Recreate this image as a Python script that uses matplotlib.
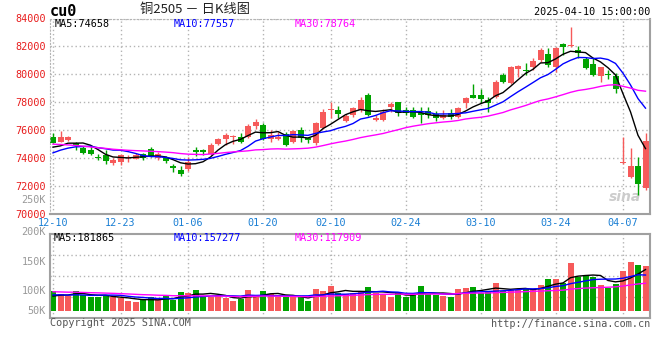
import matplotlib
matplotlib.use("Agg")
import matplotlib.pyplot as plt
import numpy as np
import pandas as pd

# --------------------------------------------------
# DATA  (cu2505 daily, 2024-12-10 .. 2025-04-10)
# --------------------------------------------------
dates = (
    ["12-10", "12-11", "12-12", "12-13", "12-16", "12-17", "12-18", "12-19", "12-20",
     "12-23", "12-24", "12-25", "12-26", "12-27", "12-30", "12-31"]
    + ["01-02", "01-03", "01-06", "01-07", "01-08", "01-09", "01-10", "01-13", "01-14",
       "01-15", "01-16", "01-17", "01-20", "01-21", "01-22", "01-23", "01-24", "01-27"]
    + ["02-05", "02-06", "02-07", "02-10", "02-11", "02-12", "02-13", "02-14", "02-17",
       "02-18", "02-19", "02-20", "02-21", "02-24", "02-25", "02-26", "02-27", "02-28"]
    + ["03-03", "03-04", "03-05", "03-06", "03-07", "03-10", "03-11", "03-12", "03-13",
       "03-14", "03-17", "03-18", "03-19", "03-20", "03-21", "03-24", "03-25", "03-26",
       "03-27", "03-28", "03-31"]
    + ["04-01", "04-02", "04-03", "04-07", "04-08", "04-09", "04-10"]
)
date_ticks = ["12-10", "12-23", "01-06", "01-20", "02-10", "02-24", "03-10", "03-24", "04-07"]

open_ = [75500, 75190, 75270, 75070, 74760, 74570, 74110, 74240, 73660, 73690,
         73990, 73950, 74300, 74680, 74020, 74000, 73410, 73160, 73240, 74560,
         74590, 74310, 75020, 75400, 75540, 75500, 75490, 76310, 76380, 75380,
         75380, 75740, 75160, 76020, 75430, 75110, 76160, 77450, 77450, 76690,
         77060, 77450, 78520, 76760, 76740, 77660, 78020, 77450, 77450, 77210,
         77380, 77160, 76860, 77210, 76970, 77970, 78520, 78520, 78160, 78400,
         79950, 79400, 80360, 80310, 80540, 81020, 81430, 80540, 82140, 82000,
         81740, 81070, 80740, 79880, 80020, 79880, 73640, 72640, 73470, 71860]
high_ = [75790, 75970, 75560, 75190, 74900, 74900, 74290, 74560, 74000, 74310,
         74240, 74360, 74400, 74790, 74450, 74160, 73580, 73450, 74060, 74770,
         74660, 75070, 75470, 75790, 75660, 75790, 76430, 76790, 76500, 76020,
         75900, 75900, 76020, 76210, 75540, 76610, 77500, 78040, 77710, 77140,
         77690, 78400, 78690, 77090, 77500, 78040, 78040, 77690, 77640, 77690,
         77690, 77380, 77450, 77520, 77690, 78400, 79310, 78950, 78360, 79590,
         80070, 80590, 80660, 80790, 81140, 81860, 81860, 81970, 82210, 83400,
         82020, 81260, 81140, 80540, 80310, 80070, 75540, 74710, 74110, 75790]
low_ = [75060, 75140, 75230, 74590, 74330, 74190, 73880, 73610, 73520, 73500,
        73690, 73910, 73880, 74050, 73880, 73640, 73040, 72740, 73090, 74130,
        74200, 74260, 74950, 74950, 75000, 75070, 75430, 76070, 75310, 75190,
        75310, 74900, 75070, 75140, 75110, 74950, 76090, 76910, 76860, 76570,
        76970, 77310, 76990, 76660, 76660, 77330, 77020, 77090, 76860, 76540,
        76860, 76660, 76790, 76810, 76860, 77570, 78330, 77970, 77290, 78330,
        79360, 79310, 79830, 79950, 80310, 80900, 80540, 80190, 81380, 81970,
        81140, 80360, 79880, 79470, 79640, 78690, 73590, 72570, 71380, 71690]
close_ = [75110, 75540, 75530, 74840, 74400, 74310, 73990, 73830, 73890, 74240,
          74110, 74240, 74000, 74150, 74290, 73760, 73260, 72880, 73700, 74410,
          74450, 74950, 75360, 75660, 75610, 75140, 76310, 76610, 75400, 75660,
          75540, 74950, 75970, 75430, 75310, 76540, 77340, 77500, 77160, 77020,
          77570, 78160, 77060, 76910, 77310, 77900, 77210, 77210, 76970, 77090,
          77090, 76860, 77090, 76970, 77610, 78330, 78330, 78240, 77970, 79470,
          79470, 80540, 80590, 80240, 80970, 81740, 80660, 81900, 81930, 82030,
          81500, 80430, 79950, 80540, 79950, 78930, 73690, 73470, 72140, 75200]
# volume, thousand lots
volume = [87, 74, 65, 87, 70, 59, 62, 65, 59, 55,
          44, 40, 47, 59, 50, 65, 47, 84, 80, 92,
          65, 62, 65, 55, 44, 52, 92, 70, 87, 74,
          59, 59, 62, 59, 44, 96, 87, 111, 80, 74,
          77, 87, 106, 77, 70, 62, 77, 62, 74, 109,
          74, 70, 65, 62, 96, 102, 106, 80, 89, 124,
          89, 92, 92, 97, 97, 114, 140, 140, 124, 213,
          148, 155, 150, 114, 102, 118, 176, 215, 202, 200]

# 29 sessions before 12-10, only used to seed the moving averages
pre_close = [76200, 76500, 76000, 75800, 76100, 75600, 75300, 75700, 75400, 75200,
             75000, 74600, 74900, 75100, 74700, 74500, 74800, 75000, 74900, 74920,
             73600, 74100, 73900, 74200, 74050, 75080, 74570, 74840, 74340]
pre_volume = [100, 95, 88, 105, 92, 85, 98, 90, 94, 86,
              89, 93, 87, 96, 84, 91, 88, 92, 85, 82,
              70, 80, 72, 78, 75, 55, 62, 58, 63]

price_labels = ["MA5:74658", "MA10:77557", "MA30:78764"]
vol_labels = ["MA5:181865", "MA10:157277", "MA30:117909"]
vol_axis_labels = ["250K", "200K", "150K", "100K", "50K"]

# --------------------------------------------------
# STYLE
# --------------------------------------------------
RED = "#f65a5a"
GREEN = "#00a300"
MA_COLORS = ["#000000", "#0000ff", "#ff00ff"]
GRID = "#b4b4b4"
FRAME = "#a0a0a0"
MONO = "DejaVu Sans Mono"
FS = 7.3

W, H = 660, 360


def box(l, t, r, b):
    return [l / W, 1 - b / H, (r - l) / W, (b - t) / H]


fig = plt.figure(figsize=(6.6, 3.6), dpi=100, facecolor="white")
ax = fig.add_axes(box(50, 18.5, 650, 214))
axv = fig.add_axes(box(50, 234, 650, 318))

x = np.arange(len(close_))
o = np.array(open_)
c = np.array(close_)
up = c >= o
colors = np.where(up, RED, GREEN)
tick_pos = [dates.index(d) for d in date_ticks]

# --------------------------------------------------
# PRICE PANEL
# --------------------------------------------------
ax.vlines(x, low_, high_, colors=colors, lw=1, zorder=2)
ax.bar(x, np.maximum(np.abs(c - o), 70), bottom=np.minimum(o, c),
       width=0.8, color=colors, linewidth=0, zorder=2)

closes = pd.Series(pre_close + close_)
n_pre = len(pre_close)
for n, col in zip([5, 10, 30], MA_COLORS):
    ma = closes.rolling(n).mean().iloc[n_pre:].values
    ax.plot(x, ma, color=col, lw=1, zorder=3)

ax.set_xlim(-0.4, len(x) - 0.4)
ax.set_ylim(70000, 84000)
ax.set_yticks(np.arange(70000, 84001, 2000))
ax.set_yticklabels([str(v) for v in range(70000, 84001, 2000)])
ax.set_xticks(tick_pos)
ax.set_xticklabels(date_ticks)
ax.tick_params(axis="y", length=0, pad=3, labelcolor="#e81c1c", labelsize=FS)
ax.tick_params(axis="x", length=0, pad=3, labelcolor="#1a7fd4", labelsize=FS)
for lab in ax.get_xticklabels() + ax.get_yticklabels():
    lab.set_fontfamily(MONO)
ax.grid(True, color=GRID, lw=1, linestyle=(0, (1, 2)))
ax.set_axisbelow(True)
for side in ["left", "top"]:
    ax.spines[side].set_color(GRID)
    ax.spines[side].set_linestyle((0, (1, 2)))
for side in ["bottom", "right"]:
    ax.spines[side].set_color(FRAME)
    ax.spines[side].set_linewidth(1.5)

# sina watermark
ax.text(0.985, 0.085, "sina", transform=ax.transAxes, ha="right", va="center",
        fontsize=10, fontweight="bold", fontstyle="italic", color="#cccccc", zorder=1)

# --------------------------------------------------
# VOLUME PANEL
# --------------------------------------------------
axv.bar(x, volume, width=0.8, color=colors, linewidth=0, zorder=2)
vols = pd.Series(pre_volume + volume)
for n, col in zip([5, 10, 30], MA_COLORS):
    ma = vols.rolling(n).mean().iloc[n_pre:].values
    axv.plot(x, ma, color=col, lw=1, zorder=3)

axv.set_xlim(-0.4, len(x) - 0.4)
axv.set_ylim(-32.3, 339.8)
axv.set_xticks(tick_pos)
axv.set_yticks([])
axv.tick_params(axis="x", length=0, labelbottom=False)
axv.grid(True, axis="x", color=GRID, lw=1, linestyle=(0, (1, 2)))
for frac in [0.25, 0.5, 0.75]:
    axv.axhline(-32.3 + frac * (339.8 + 32.3), color=GRID, lw=1, linestyle=(0, (1, 2)), zorder=1)
axv.set_axisbelow(True)
for s in axv.spines.values():
    s.set_color(FRAME)
    s.set_linewidth(1.5)

# volume axis labels as drawn by the source chart
for lab, ypix in zip(vol_axis_labels, [200, 231.7, 261.7, 290.7, 310.7]):
    fig.text(46 / W, 1 - ypix / H, lab, ha="right", va="center",
             family=MONO, fontsize=FS, color="#999999")

# --------------------------------------------------
# HEADER / FOOTER TEXT
# --------------------------------------------------
fig.text(50 / W, 1 - 12 / H, "cu0", ha="left", va="center", family=MONO,
         fontsize=11, fontweight="bold", color="black")
fig.text(195 / W, 1 - 10 / H, "铜2505 － 日K线图", ha="center", va="center",
         family=["Noto Sans CJK SC", "DejaVu Sans"], fontsize=9.5, color="#222222")
fig.text(650 / W, 1 - 12 / H, "2025-04-10 15:00:00", ha="right", va="center",
         family=MONO, fontsize=FS, color="black")

for lab, col, xp in zip(price_labels, MA_COLORS, [55, 174, 295]):
    fig.text(xp / W, 1 - 24 / H, lab, ha="left", va="center", family=MONO,
             fontsize=FS, color=col)
for lab, col, xp in zip(vol_labels, MA_COLORS, [54, 174, 295]):
    fig.text(xp / W, 1 - 238 / H, lab, ha="left", va="center", family=MONO,
             fontsize=FS, color=col)

fig.text(50 / W, 1 - 323.5 / H, "Copyright 2025 SINA.COM", ha="left", va="center",
         family=MONO, fontsize=FS, color="#555555")
fig.text(650 / W, 1 - 324 / H, "http://finance.sina.com.cn", ha="right", va="center",
         family=MONO, fontsize=FS, color="#555555")

fig.savefig("out.png", dpi=100, facecolor="white")
plt.close(fig)
